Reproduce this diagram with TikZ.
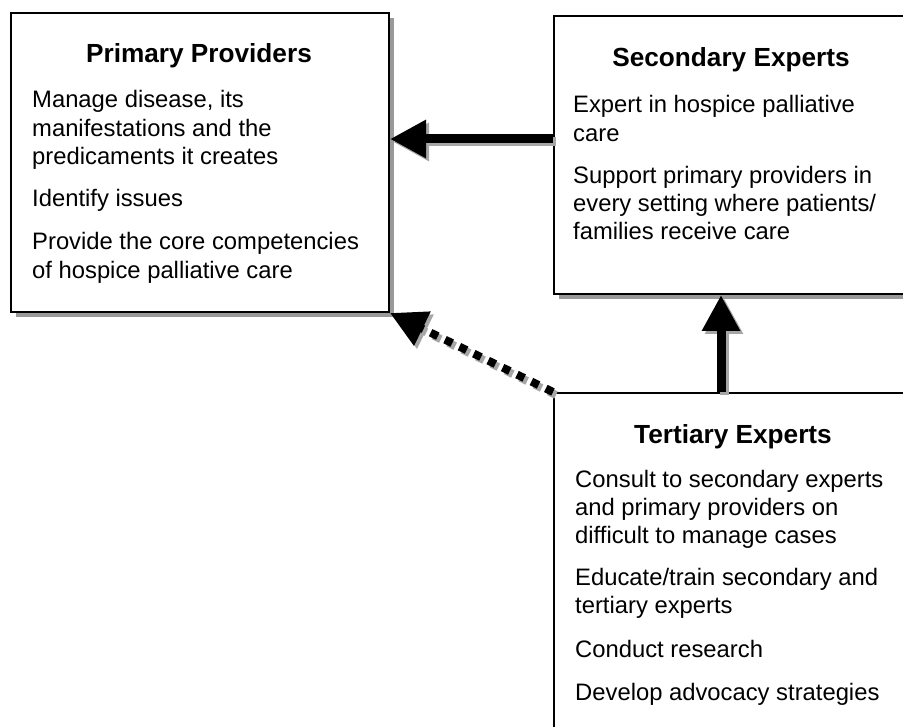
\documentclass[tikz,border=0pt]{standalone}
\usepackage{fontspec}
\setmainfont{Liberation Sans}
\usetikzlibrary{arrows.meta,shadows,calc}
\begin{document}
\begin{tikzpicture}[x=1pt,y=-1pt,
  box/.style={draw=black, line width=2pt, fill=white, rectangle, inner sep=0pt, anchor=north west,
    drop shadow={shadow xshift=5pt, shadow yshift=-5pt, fill=black!40, opacity=1}},
  ttl/.style={anchor=base, inner sep=0pt, font=\fontsize{26.2}{30}\selectfont\bfseries},
  txt/.style={anchor=base west, inner sep=0pt, font=\fontsize{23.8}{28.5}\selectfont},
  conn/.style={line width=9pt, -{Triangle[length=36pt,width=36pt]}},
  dconn/.style={line width=8pt, dash pattern=on 8pt off 8pt, -{Triangle[length=36pt,width=36pt]}},
]
\fill[white] (0,0) rectangle (903,727);
\useasboundingbox (0,0) rectangle (903,727);
\clip (0,0) rectangle (903,727);

% boxes
\node[box, minimum width=378pt, minimum height=299pt] (prim) at (10,12) {};
\node[box, minimum width=356pt, minimum height=278pt] (sec) at (553,15) {};
\node[box, minimum width=360pt, minimum height=400pt] (ter) at (553,392) {};

% primary text
\node[ttl] (pt) at (199,63) {Primary Providers};
\node[txt] (p1) at (32,108) {Manage disease, its};
\node[txt] (p2) at (32,136.5) {manifestations and the};
\node[txt] (p3) at (32,165) {predicaments it creates};
\node[txt] (p4) at (32,207) {Identify issues};
\node[txt] (p5) at (32,250) {Provide the core competencies};
\node[txt] (p6) at (32,278.5) {of hospice palliative care};

% secondary text
\node[ttl] (st) at (731,67) {Secondary Experts};
\node[txt] (s1) at (573,113) {Expert in hospice palliative};
\node[txt] (s2) at (573,141.5) {care};
\node[txt] (s3) at (573,184) {Support primary providers in};
\node[txt] (s4) at (573,212) {every setting where patients/};
\node[txt] (s5) at (573,240) {families receive care};

% tertiary text
\node[ttl] (tt) at (733,443) {Tertiary Experts};
\node[txt] (t1) at (575,487) {Consult to secondary experts};
\node[txt] (t2) at (575,515) {and primary providers on};
\node[txt] (t3) at (575,543) {difficult to manage cases};
\node[txt] (t4) at (575,585) {Educate/train secondary and};
\node[txt] (t5) at (575,613) {tertiary experts};
\node[txt] (t6) at (575,657) {Conduct research};
\node[txt] (t7) at (575,700) {Develop advocacy strategies};

% connector end points
\coordinate (hA) at ($(sec.north west)+(0,124)$);
\coordinate (hB) at (prim.east |- hA);
\coordinate (vA) at ($(ter.north west)+(168,0)$);
\coordinate (vB) at (vA |- sec.south);

% arrow shadows
\begin{scope}[transform canvas={xshift=3pt,yshift=-3pt}]
\draw[conn, draw=black!35] (hA) -- (hB);
\draw[conn, draw=black!35] (vA) -- (vB);
\draw[dconn, draw=black!35] (ter.north west) -- (prim.south east);
\end{scope}

% arrows
\draw[conn] (hA) -- (hB);
\draw[conn] (vA) -- (vB);
\draw[dconn] (ter.north west) -- (prim.south east);
\end{tikzpicture}
\end{document}
